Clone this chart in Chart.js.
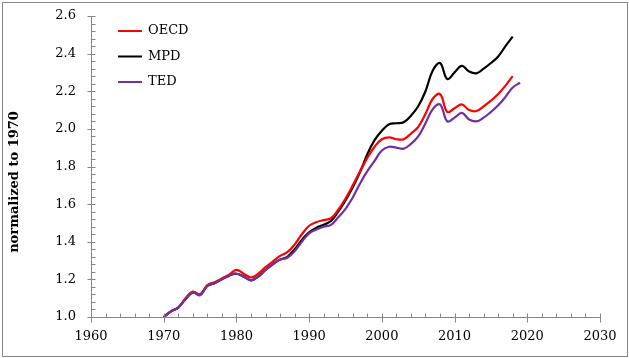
<!DOCTYPE html>
<html>
<head>
<meta charset="utf-8">
<title>normalized to 1970</title>
<script src="https://cdn.jsdelivr.net/npm/chart.js@4.4.1/dist/chart.umd.min.js"></script>
<style>
	body { margin: 0; background: #fff; }
	#wrap { width: 629px; height: 358px; }
</style>
</head>
<body>
<div id="wrap"><canvas id="chart" width="629" height="358"></canvas></div>
<script>
// years 1970..2019
const years = [];
for (let y = 1970; y <= 2019; y++) years.push(y);

const oecd = [1.00, 1.03, 1.05, 1.10, 1.135, 1.12, 1.17, 1.185, 1.205, 1.225,
	1.25, 1.23, 1.21, 1.23, 1.265, 1.295, 1.325, 1.345, 1.385, 1.44,
	1.485, 1.505, 1.515, 1.525, 1.57, 1.63, 1.70, 1.775, 1.845, 1.905,
	1.945, 1.955, 1.945, 1.945, 1.975, 2.01, 2.08, 2.16, 2.185, 2.09,
	2.11, 2.13, 2.10, 2.095, 2.12, 2.15, 2.185, 2.23, 2.28, null];

const mpd = [1.00, 1.03, 1.05, 1.095, 1.13, 1.12, 1.165, 1.18, 1.20, 1.22,
	1.23, 1.215, 1.195, 1.215, 1.25, 1.28, 1.305, 1.32, 1.36, 1.41,
	1.45, 1.475, 1.49, 1.51, 1.56, 1.62, 1.69, 1.77, 1.865, 1.94,
	1.99, 2.025, 2.03, 2.035, 2.07, 2.12, 2.20, 2.31, 2.35, 2.265,
	2.30, 2.335, 2.305, 2.295, 2.32, 2.35, 2.385, 2.44, 2.49, null];

const ted = [1.00, 1.03, 1.05, 1.095, 1.13, 1.115, 1.165, 1.18, 1.20, 1.22,
	1.23, 1.215, 1.195, 1.215, 1.25, 1.28, 1.305, 1.315, 1.35, 1.40,
	1.445, 1.465, 1.48, 1.49, 1.53, 1.575, 1.635, 1.71, 1.775, 1.83,
	1.885, 1.905, 1.90, 1.895, 1.92, 1.96, 2.03, 2.105, 2.13, 2.04,
	2.06, 2.085, 2.05, 2.04, 2.06, 2.09, 2.125, 2.17, 2.22, 2.245];

const seriesNames = ['OECD', 'MPD', 'TED'];
const seriesColors = ['#ff0000', '#000000', '#7030a0'];
const xTicks = [1960, 1970, 1980, 1990, 2000, 2010, 2020, 2030];
const yTicks = [1.0, 1.2, 1.4, 1.6, 1.8, 2.0, 2.2, 2.4, 2.6];

const FONT = "'DejaVu Serif', serif";
const AXIS = '#868686';

function pts(vals) {
	return years.map((y, i) => ({ x: y, y: vals[i] })).filter(p => p.y !== null);
}

// frame, axis ticks, title and legend drawn by hand (Excel look)
const decor = {
	id: 'decor',
	afterDraw(chart) {
		const ctx = chart.ctx;
		const xs = chart.scales.x, ys = chart.scales.y;
		const ax = Math.round(xs.left) + 0.5;
		const ay = Math.round(ys.bottom) + 0.5;
		ctx.save();
		ctx.strokeStyle = AXIS;
		ctx.lineWidth = 1;
		// outer frame
		ctx.strokeRect(2.5, 2.5, 625, 354);
		ctx.beginPath();
		ctx.moveTo(ax, Math.round(ys.top) + 0.5);
		ctx.lineTo(ax, ay);
		ctx.lineTo(Math.round(xs.right) + 0.5, ay);
		// x ticks: major every 10 crossing, minor every 2 inside
		for (let yr = xTicks[0]; yr <= xTicks[xTicks.length - 1]; yr += 2) {
			const px = Math.round(xs.getPixelForValue(yr)) + 0.5;
			ctx.moveTo(px, yr % 10 === 0 ? ay + 5 : ay);
			ctx.lineTo(px, ay - 4);
		}
		// y ticks: major every 0.2 crossing, minor every 0.04 inside
		for (let k = 0; k <= 40; k++) {
			const py = Math.round(ys.getPixelForValue(1 + k * 0.04)) + 0.5;
			ctx.moveTo(k % 5 === 0 ? ax - 4 : ax, py);
			ctx.lineTo(ax + 4, py);
		}
		ctx.stroke();

		// y title
		ctx.fillStyle = '#000';
		ctx.font = 'bold 13px ' + FONT;
		ctx.textAlign = 'center';
		ctx.textBaseline = 'middle';
		ctx.translate(15, 182);
		ctx.rotate(-Math.PI / 2);
		ctx.fillText('normalized to 1970', 0, 0);
		ctx.restore();

		// legend
		ctx.save();
		ctx.font = '13px ' + FONT;
		ctx.textBaseline = 'middle';
		seriesNames.forEach((n, i) => {
			const y = 31 + i * 25.5;
			ctx.strokeStyle = seriesColors[i];
			ctx.lineWidth = 2;
			ctx.beginPath();
			ctx.moveTo(118, y);
			ctx.lineTo(142, y);
			ctx.stroke();
			ctx.fillStyle = '#000';
			ctx.fillText(n, 148, y);
		});
		ctx.restore();
	}
};

const allData = [oecd, mpd, ted];
const drawOrder = [1, 2, 0]; // purple on top, then red, then black

new Chart(document.getElementById('chart'), {
	type: 'line',
	data: {
		datasets: seriesNames.map((n, i) => ({
			label: n,
			data: pts(allData[i]),
			borderColor: seriesColors[i],
			borderWidth: 2.2,
			pointRadius: 0,
			tension: 0.4,
			fill: false,
			order: drawOrder[i]
		}))
	},
	options: {
		responsive: false,
		animation: false,
		layout: { padding: { left: 0, top: 16, right: 29, bottom: 0 } },
		plugins: { legend: { display: false }, tooltip: { enabled: false } },
		scales: {
			x: {
				type: 'linear',
				min: 1960, max: 2030,
				grid: { display: false, drawTicks: false },
				border: { display: false },
				afterBuildTicks(s) { s.ticks = xTicks.map(v => ({ value: v })); },
				afterFit(s) { s.height = 41; s.paddingLeft = 0; s.paddingRight = 0; },
				ticks: {
					padding: 12,
					color: '#000',
					font: { family: FONT, size: 13 },
					callback: v => String(v)
				}
			},
			y: {
				min: 1.0, max: 2.6,
				grid: { display: false, drawTicks: false },
				border: { display: false },
				afterBuildTicks(s) { s.ticks = yTicks.map(v => ({ value: v })); },
				afterFit(s) { s.width = 91; s.paddingTop = 0; s.paddingBottom = 0; },
				ticks: {
					padding: 15,
					color: '#000',
					font: { family: FONT, size: 13 },
					callback: v => Number(v).toFixed(1)
				}
			}
		}
	},
	plugins: [decor]
});
</script>
</body>
</html>
